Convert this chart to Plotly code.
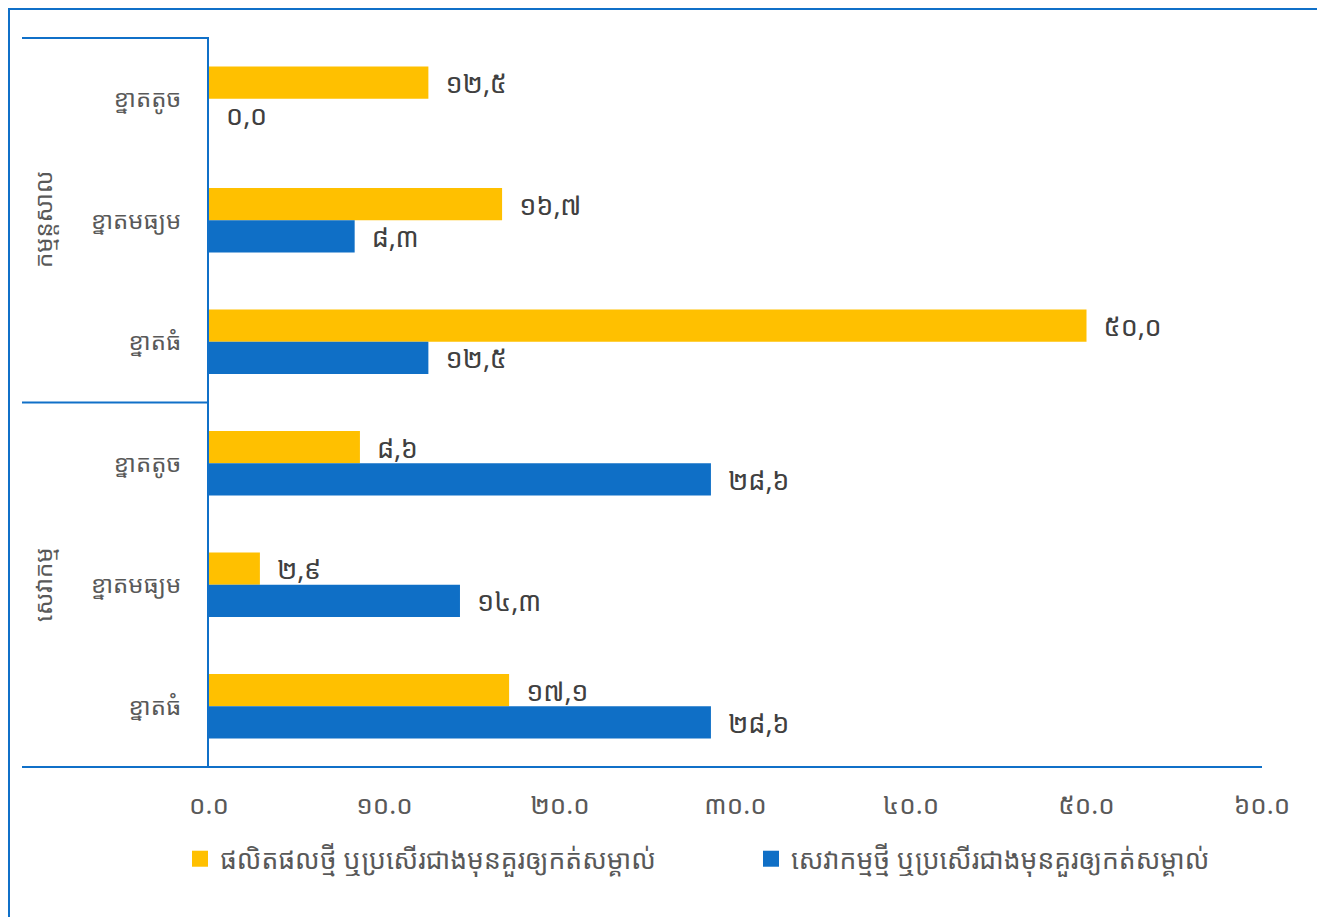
import plotly.graph_objects as go

groups = ["កម្មន្តសាល", "សេវាកម្ម"]
sizes = ["ខ្នាតតូច", "ខ្នាតមធ្យម", "ខ្នាតធំ"]
series_names = ["ផលិតផលថ្មី ឬប្រសើរជាងមុនគួរឲ្យកត់សម្គាល់",
                "សេវាកម្មថ្មី ឬប្រសើរជាងមុនគួរឲ្យកត់សម្គាល់"]
series_colors = ["#FFC000", "#0F6FC6"]
product_vals = [12.5, 16.7, 50.0, 8.6, 2.9, 17.1]
service_vals = [0.0, 8.3, 12.5, 28.6, 14.3, 28.6]
x_tick_vals = [0, 10, 20, 30, 40, 50, 60]

KH_DIGITS = "០១២៣៤៥៦៧៨៩"


def kh(s):
    return "".join(KH_DIGITS[int(c)] if c.isdigit() else c for c in s)


x_tick_text = [kh(f"{v:.1f}") for v in x_tick_vals]
cats = [f"{g}|{s}" for g in groups for s in sizes]
cat_labels = [s for g in groups for s in sizes]

FONT = "Noto Sans Khmer, Khmer OS, Khmer OS System, Leelawadee UI, sans-serif"
BLUE_LINE = "#1070C8"
TXT = "#595959"

fig = go.Figure()
for vals, name, color in [(product_vals, series_names[0], series_colors[0]),
                          (service_vals, series_names[1], series_colors[1])]:
    fig.add_trace(go.Bar(
        y=cats, x=vals, orientation="h", name=name, showlegend=False,
        marker=dict(color=color, line=dict(width=0)),
        text=["\u00a0\u00a0" + kh(f"{v:.1f}").replace(".", ",") for v in vals],
        textposition="outside", cliponaxis=False, constraintext="none",
        textfont=dict(family=FONT, size=27, color="#404040"),
    ))
# legend entries with larger square swatches
for name, color in zip(series_names, series_colors):
    fig.add_trace(go.Scatter(
        x=[None], y=[None], mode="markers", name=name,
        marker=dict(symbol="square", size=20, color=color),
    ))

# page has an 8px body margin; figure coordinates are page - 8
W, H = 1317, 909
L, T = 201, 30
R = W - 1254
B = H - 759
pw, ph = W - L - R, H - T - B


def px(xpage):
    return (xpage - 8 - L) / pw


def py(ypage):
    return (H - B - (ypage - 8)) / ph


shapes = [
    dict(type="rect", xref="paper", yref="paper", x0=px(9), x1=px(1322), y0=py(9), y1=py(960),
         line=dict(color=BLUE_LINE, width=2), layer="below"),
    dict(type="line", xref="paper", yref="paper", x0=px(22), x1=0, y0=1, y1=1,
         line=dict(color=BLUE_LINE, width=2)),
    dict(type="line", xref="paper", yref="paper", x0=px(22), x1=0, y0=0.5, y1=0.5,
         line=dict(color=BLUE_LINE, width=2)),
    dict(type="line", xref="paper", yref="paper", x0=px(22), x1=1, y0=0, y1=0,
         line=dict(color=BLUE_LINE, width=2)),
]

annotations = [
    dict(text=groups[0], xref="paper", yref="paper", x=px(42), y=py(220), textangle=-90,
         xanchor="center", yanchor="middle",
         showarrow=False, font=dict(family=FONT, size=24, color=TXT)),
    dict(text=groups[1], xref="paper", yref="paper", x=px(42), y=py(585), textangle=-90,
         xanchor="center", yanchor="middle",
         showarrow=False, font=dict(family=FONT, size=24, color=TXT)),
]

fig.update_layout(
    width=W, height=H,
    margin=dict(l=L, r=R, t=T, b=B, autoexpand=False),
    paper_bgcolor="white", plot_bgcolor="white",
    barmode="group", bargap=0.47, bargroupgap=0,
    showlegend=True,
    legend=dict(orientation="h", x=px(180), y=py(859), xanchor="left", yanchor="middle",
                entrywidth=526, entrywidthmode="pixels", traceorder="normal",
                font=dict(family=FONT, size=26.5, color=TXT), itemwidth=30),
    xaxis=dict(range=[0, 60], tickvals=x_tick_vals, ticktext=x_tick_text,
               showgrid=False, zeroline=False, showline=False, ticks="",
               ticklabelstandoff=20,
               tickfont=dict(family=FONT, size=26, color=TXT)),
    yaxis=dict(type="category", categoryorder="array", categoryarray=cats,
               tickvals=cats, ticktext=cat_labels, autorange="reversed",
               showgrid=False, zeroline=False, showline=True, linecolor=BLUE_LINE,
               linewidth=2, ticks="", ticklabelstandoff=21,
               tickfont=dict(family=FONT, size=24, color=TXT)),
    shapes=shapes, annotations=annotations,
)

fig.write_html("out.html")
